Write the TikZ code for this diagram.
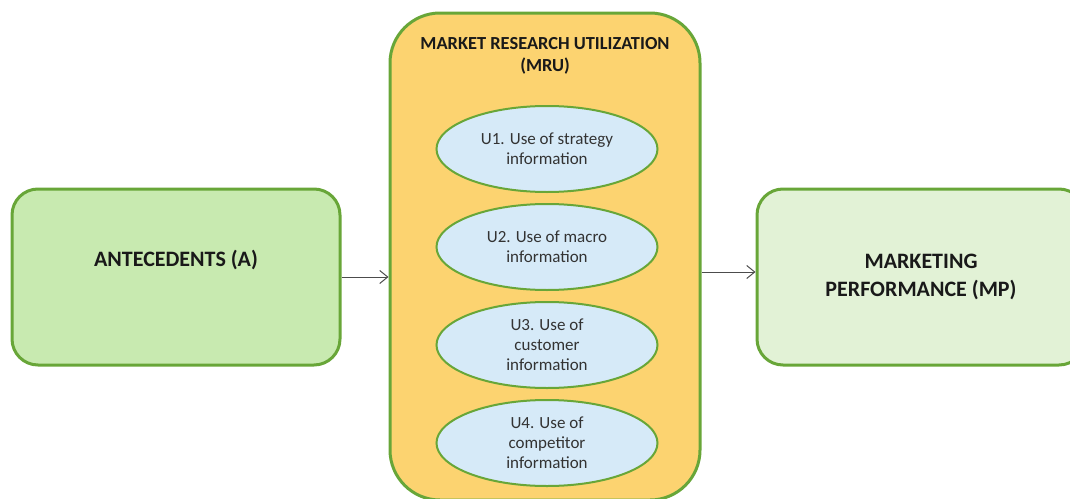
\documentclass[tikz,border=0pt]{standalone}
\usepackage{fontspec}
\setmainfont{Carlito}
\usetikzlibrary{arrows.meta,positioning,shapes.geometric}

\definecolor{mrugreen}{RGB}{104,166,56}
\definecolor{antefill}{RGB}{200,234,176}
\definecolor{mpfill}{RGB}{226,242,214}
\definecolor{mrufill}{RGB}{252,211,112}
\definecolor{useblue}{RGB}{214,234,248}

\begin{document}
\begin{tikzpicture}[
  x=0.5pt, y=0.5pt,
  node distance=5pt,
  block/.style={draw=mrugreen, line width=1.5pt, rounded corners=13pt, align=center, minimum width=164pt, minimum height=88pt, font=\bfseries\fontsize{11}{14}\selectfont, text=black!90},
  mrubox/.style={draw=mrugreen, line width=1.5pt, rounded corners=25pt, fill=mrufill, minimum width=155pt, minimum height=243.5pt},
  title/.style={align=center, font=\bfseries\fontsize{9.2}{11}\selectfont, text=black!90},
  usebox/.style={draw=mrugreen, line width=1pt, ellipse, fill=useblue, align=center, minimum width=110.5pt, minimum height=43pt, inner sep=0pt, font=\fontsize{8.5}{10}\selectfont, text=black!80},
  arr/.style={-{Straight Barb[length=4pt,width=6.5pt]}, draw=black!70, line width=0.5pt}
]
  \useasboundingbox (0,0) rectangle (1070,-498);

  \node[block, fill=antefill] (ante) at (176,-277) {ANTECEDENTS (A)\\\strut};
  \node[mrubox] (mru) at (545,-256.5) {};
  \node[title, below=9.5pt of mru.north] (mrutitle) {MARKET RESEARCH UTILIZATION\\(MRU)};
  \node[block, fill=mpfill] (mp) at (921,-277) {MARKETING\\PERFORMANCE (MP)};

  % usage dimensions
  \node[usebox] (u1) at (547,-149) {U1. Use of strategy\\information};
  \node[usebox, below=of u1] (u2) {U2. Use of macro\\information};
  \node[usebox, below=of u2] (u3) {U3. Use of\\customer\\information};
  \node[usebox, below=of u3] (u4) {U4. Use of\\competitor\\information};

  \draw[arr] (ante) -- (ante -| mru.west);
  \draw[arr] ([yshift=2.5pt]mp.west -| mru.east) -- ([yshift=2.5pt]mp.west);
\end{tikzpicture}
\end{document}
